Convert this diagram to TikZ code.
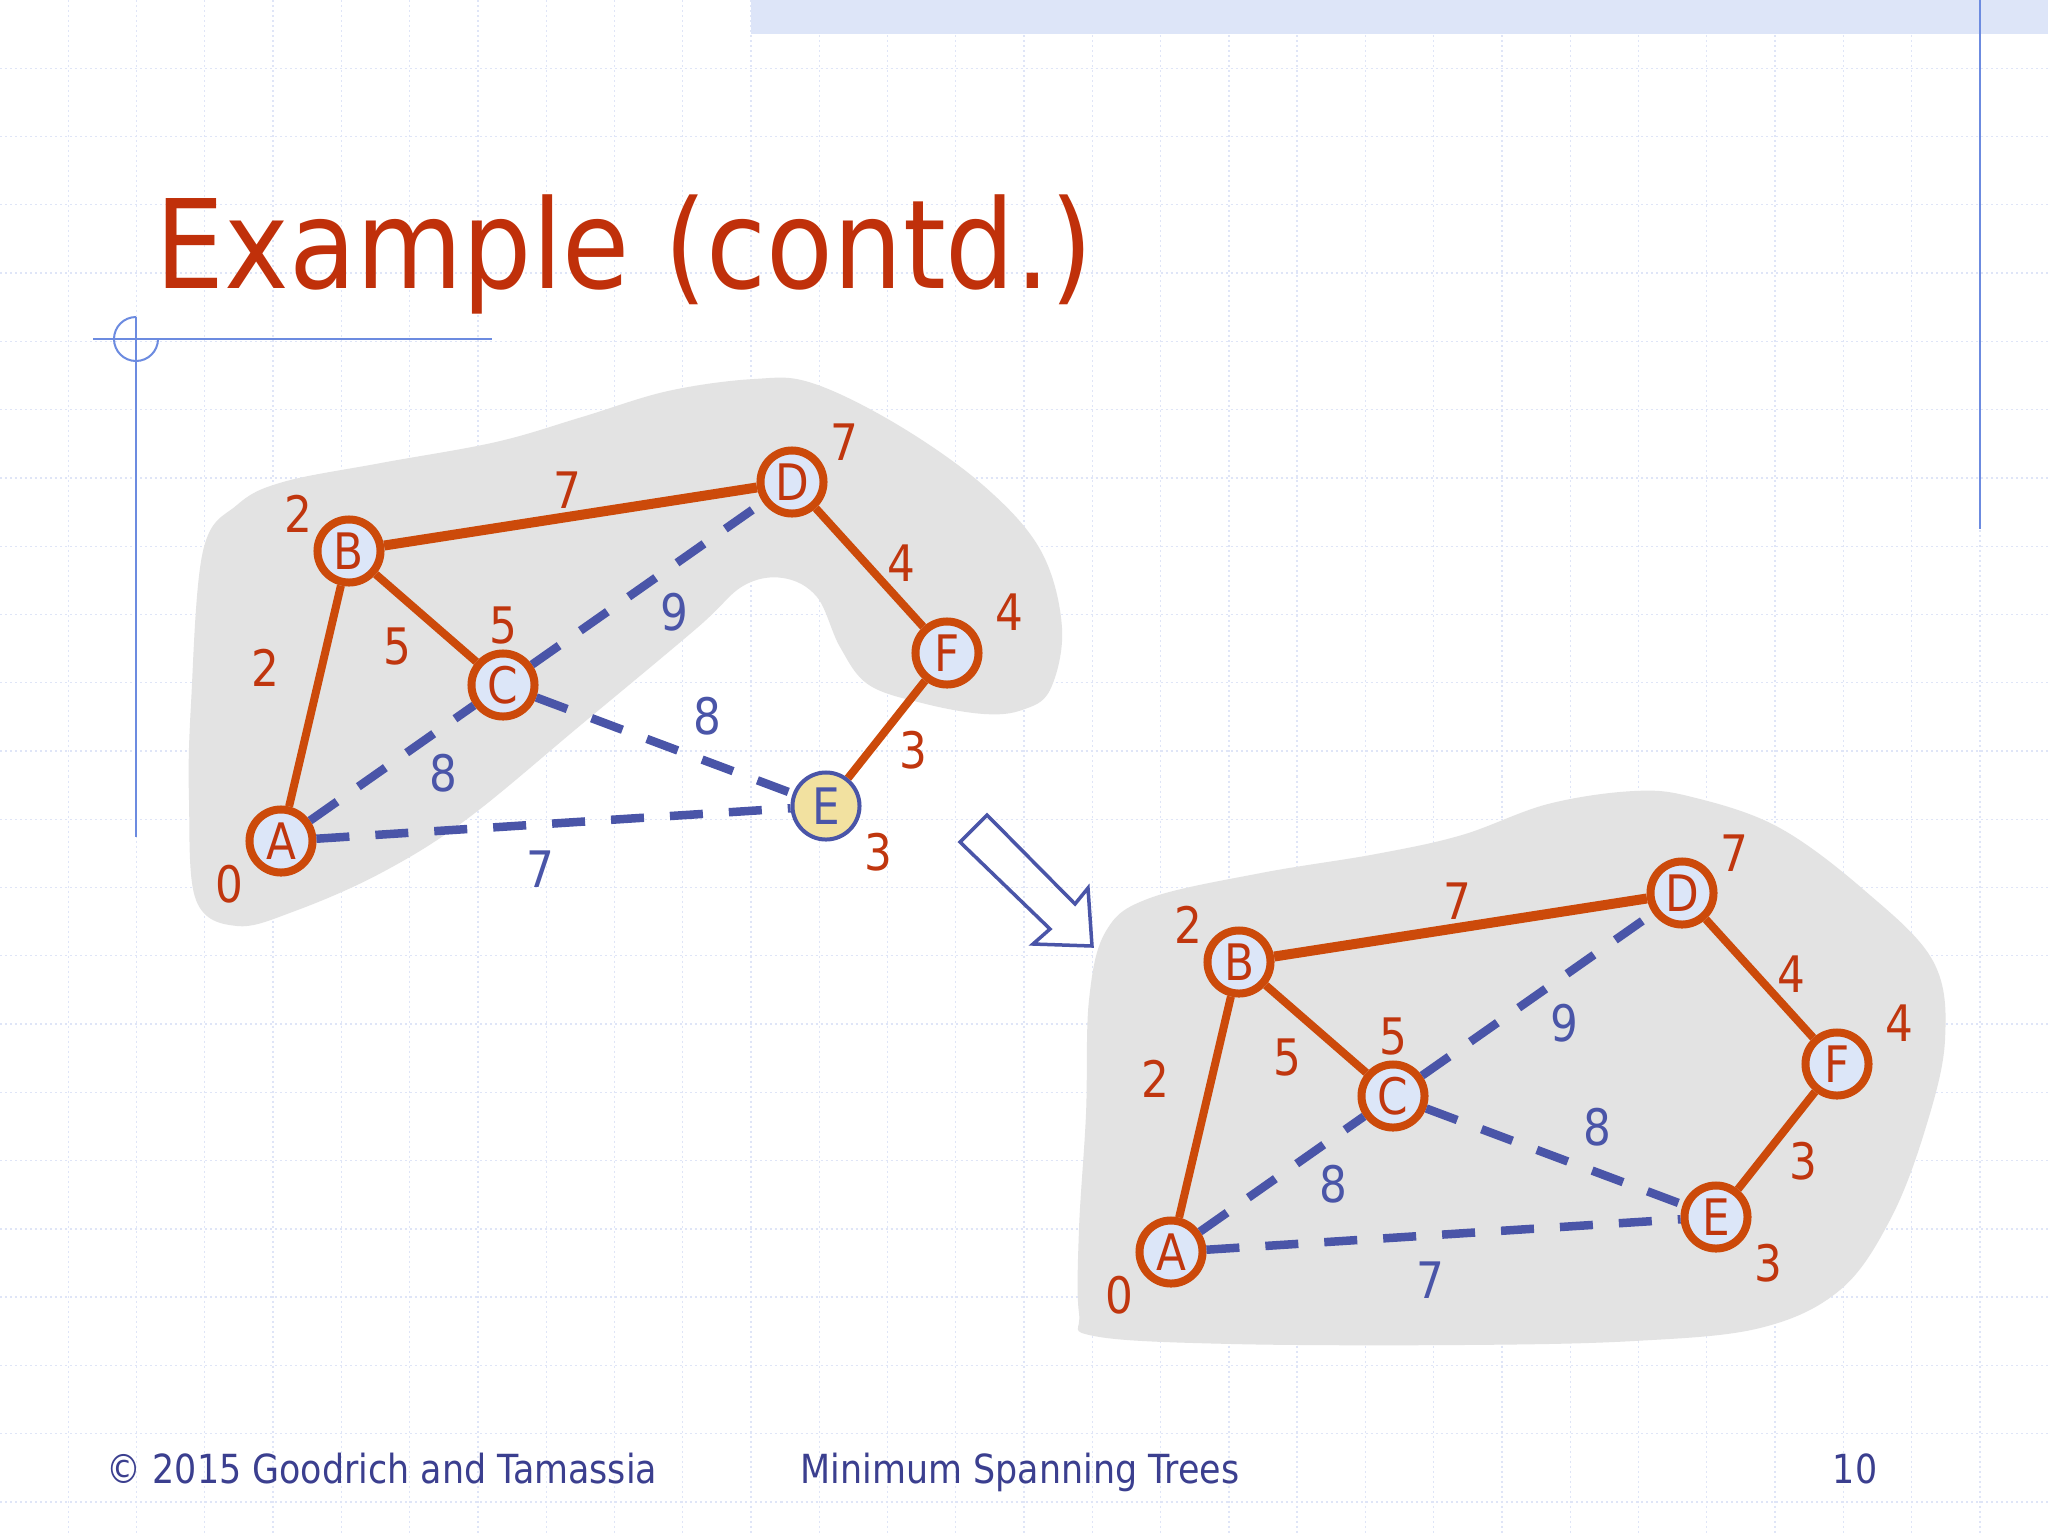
\documentclass[tikz,border=0pt]{standalone}
\usepackage{fontspec}
\setmainfont[FakeStretch=0.87]{DejaVu Sans}
\newfontfamily\titlefont[FakeStretch=0.885]{DejaVu Sans}
\usetikzlibrary{positioning}
\definecolor{TitleRed}{HTML}{C0300A}
\definecolor{TreeOrange}{HTML}{CC4A0A}
\definecolor{LabelRed}{HTML}{C0360E}
\definecolor{EdgeBlue}{HTML}{4A55A8}
\definecolor{FootBlue}{HTML}{3B3F8F}
\definecolor{NodeFill}{HTML}{DCE6F8}
\definecolor{FringeFill}{HTML}{F2E1A0}
\definecolor{CloudGray}{HTML}{E3E3E3}
\definecolor{GridBlue}{HTML}{DFE5F7}
\definecolor{RuleBlue}{HTML}{6C8BE0}
\definecolor{BandBlue}{HTML}{DDE5F8}

\tikzset{
  vertex/.style={circle, draw=TreeOrange, fill=NodeFill, line width=0.08cm,
    minimum size=0.63cm, inner sep=0pt, text=LabelRed,
    font=\fontsize{14.3}{16}\selectfont},
  fringe/.style={vertex, draw=EdgeBlue, fill=FringeFill, line width=0.04cm,
    minimum size=0.67cm, text=EdgeBlue},
  treeedge/.style={draw=TreeOrange, line width=0.08cm},
  nontree/.style={draw=EdgeBlue, line width=0.085cm, dash pattern=on 0.33cm off 0.26cm},
  wlabel/.style={inner sep=0pt, text=LabelRed, font=\fontsize{14.3}{16}\selectfont},
  blabel/.style={wlabel, text=EdgeBlue},
  gridline/.style={GridBlue, line width=0.013cm, dash pattern=on 0.02cm off 0.03cm},
  footer/.style={anchor=base, inner sep=0pt, text=FootBlue, font=\fontsize{11.4}{13}\selectfont}
}

\begin{document}
\begin{tikzpicture}[x=0.01cm, y=-0.01cm]
  \useasboundingbox (0,0) rectangle (2048,1536);
  \fill[white] (0,0) rectangle (2048,1536);

  % graph paper
  \foreach \i in {1,...,29}
    \draw[gridline] (\i*68.27,0) -- (\i*68.27,1536);
  \foreach \j in {1,...,22}
    \draw[gridline] (0,\j*68.27) -- (2048,\j*68.27);

  % slide decoration
  \fill[BandBlue] (751,0) rectangle (2048,34);
  \draw[RuleBlue, line width=0.02cm] (1980,0) -- (1980,529);
  \draw[RuleBlue, line width=0.02cm] (93,339) -- (492,339);
  \draw[RuleBlue, line width=0.02cm] (136,317) -- (136,837);
  \draw[RuleBlue, line width=0.02cm] (136,317) arc[start angle=270, end angle=0, radius=22];

  \node[anchor=base west, inner sep=0pt, text=TitleRed, font=\titlefont\fontsize{35.1}{40}\selectfont]
    (title) at (155,288) {Example (contd.)};

  % clouds
  \fill[CloudGray] plot[smooth cycle, tension=0.6] coordinates {
    (237,926) (196,900) (189,800) (191,704) (203,551) (237,505) (283,482)
    (381,463) (496,442) (582,417) (668,391) (754,379) (812,383) (898,425)
    (984,486) (1041,551) (1062,628) (1050,690) (1022,710) (984,714)
    (926,704) (869,685) (840,647) (817,597) (783,578) (743,586) (697,628)
    (582,724) (467,819) (381,873) (295,911)};
  \fill[CloudGray] plot[smooth cycle, tension=0.6] coordinates {
    (1094,1336) (1232,1344) (1462,1345) (1634,1341) (1760,1328) (1840,1290)
    (1890,1220) (1925,1130) (1945,1040) (1933,961) (1864,890) (1778,827)
    (1692,797) (1634,791) (1548,804) (1462,835) (1376,854) (1261,873)
    (1150,898) (1106,931) (1089,1000) (1086,1114) (1079,1229) (1079,1313)};

  % the two graphs
  \foreach \g/\dx/\dy/\est in {L/0/0/fringe, R/890/411/vertex} {
    \begin{scope}[shift={(\dx,\dy)}]
      \node[vertex] (\g A) at (281,841) {A};
      \node[vertex] (\g B) at (349,551) {B};
      \node[vertex] (\g C) at (503,685) {C};
      \node[vertex] (\g D) at (792,482) {D};
      \node[style=\est] (\g E) at (826,806) {E};
      \node[vertex] (\g F) at (947,653) {F};

      \draw[treeedge] (\g A) -- (\g B);
      \draw[treeedge] (\g B) -- (\g C);
      \draw[treeedge, line width=0.1cm] (\g B) -- (\g D);
      \draw[treeedge] (\g D) -- (\g F);
      \draw[treeedge] (\g F) -- (\g E);
      \draw[nontree] (\g A) -- (\g C);
      \draw[nontree] (\g C) -- (\g D);
      \draw[nontree] (\g C) -- (\g E);
      \draw[nontree] (\g A) -- (\g E);

      % distances
      \node[wlabel] (\g dA) at (229,884) {0};
      \node[wlabel] (\g dB) at (298,514) {2};
      \node[wlabel] (\g dC) at (503,626) {5};
      \node[wlabel] (\g dD) at (844,442) {7};
      \node[wlabel] (\g dE) at (878,852) {3};
      \node[wlabel] (\g dF) at (1009,612) {4};
      % weights
      \node[wlabel] (\g wAB) at (265,668) {2};
      \node[wlabel] (\g wBC) at (397,647) {5};
      \node[wlabel] (\g wBD) at (567,490) {7};
      \node[wlabel] (\g wDF) at (901,563) {4};
      \node[wlabel] (\g wEF) at (913,750) {3};
      \node[blabel] (\g wCD) at (674,612) {9};
      \node[blabel] (\g wCE) at (707,716) {8};
      \node[blabel] (\g wAC) at (443,773) {8};
      \node[blabel] (\g wAE) at (540,869) {7};
    \end{scope}
  }

  % arrow between the two steps
  \draw[EdgeBlue, line width=0.035cm] (960,842) -- (987,815) -- (1075,904)
    -- (1088,888) -- (1092,946) -- (1033,944) -- (1050,929) -- cycle;

  \node[footer, anchor=base west] (copy) at (106,1483) {\textcopyright{} 2015 Goodrich and Tamassia};
  \node[footer, anchor=base west] (topic) at (800,1483) {Minimum Spanning Trees};
  \node[footer, anchor=base east] (page) at (1878,1483) {10};
\end{tikzpicture}
\end{document}
